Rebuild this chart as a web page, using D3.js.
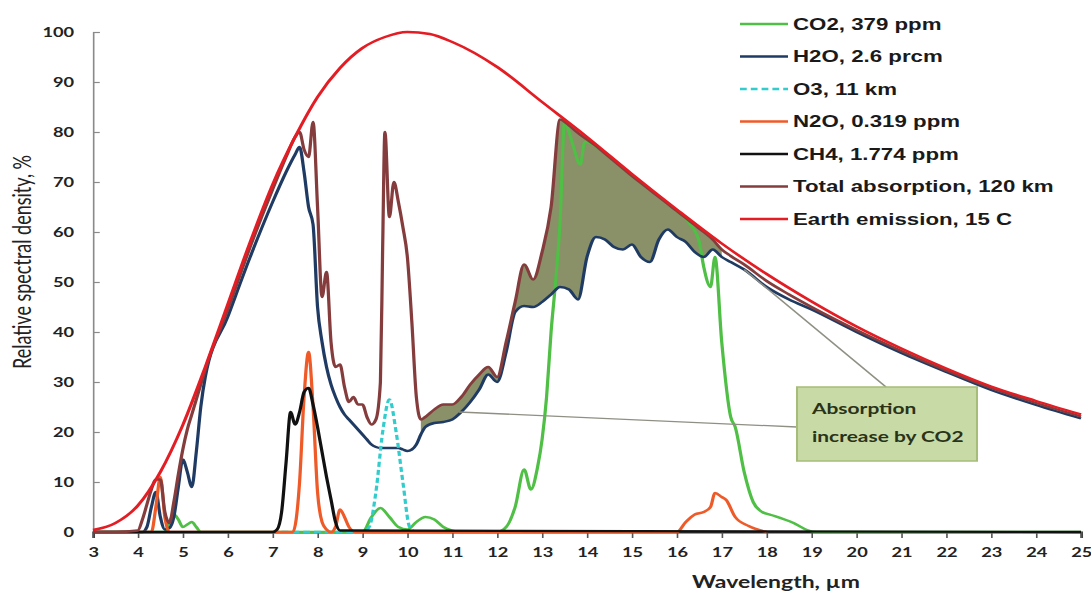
<!DOCTYPE html>
<html>
<head>
<meta charset="utf-8">
<script src="https://cdn.jsdelivr.net/npm/d3@7"></script>
<style>
  body { margin: 0; background: #fff; }
  #chart { width: 1091px; height: 595px; }
</style>
</head>
<body>
<div id="chart"></div>
<script>
// shared wavelength grid for H2O and total absorption (um)
const wl = [3, 3.5, 4,
    4.1, 4.2, 4.3, 4.4, 4.5, 4.6, 4.7, 4.8, 4.9, 5.0, 5.1, 5.2, 5.3, 5.4, 5.5,
    6, 6.5, 7, 7.3, 7.5,
    7.6, 7.7, 7.8, 7.9, 8.0, 8.1, 8.2, 8.3, 8.4, 8.5, 8.6, 8.7, 8.8, 8.9, 9.0, 9.1, 9.2, 9.3, 9.4, 9.45,
    9.5, 9.6, 9.7, 9.8, 9.9, 10.0, 10.1, 10.2, 10.3, 10.4,
    10.6, 10.8, 11.0, 11.2, 11.4, 11.6, 11.8, 12.0, 12.2, 12.4, 12.6, 12.8, 13.0, 13.2, 13.4, 13.6, 13.8,
    14.0, 14.2, 14.4, 14.6, 14.8, 15.0, 15.2, 15.4, 15.6, 15.8, 16.0, 16.2, 16.4, 16.6, 16.8, 17.0,
    17.2, 17.5, 18, 18.5, 19, 20, 21, 22, 23, 24, 25];

const h2o = [0, 0, 0,
    0, 1, 5, 8, 3, 0.5, 0.8, 3, 9, 14.5, 12, 9, 16, 25, 31,
    43, 55, 66, 72, 75.5,
    77, 72, 65, 61.5, 45, 38, 33, 29.5, 27, 25, 23.5, 22.5, 21.5, 20.5, 19.5, 18.5, 17.5, 17, 16.8, 16.8,
    16.8, 16.8, 16.8, 16.8, 16.5, 16.2, 16.5, 17.5, 19.5, 21,
    21.8, 22, 22.5, 24, 26, 28.5, 31.5, 30, 36, 44, 45.2, 45, 46, 47.5, 49, 48.5, 46.5,
    55, 59, 58.5, 57, 56.5, 57.5, 55, 54, 58.5, 60.5, 59, 58, 56, 55, 56.5, 55,
    54, 52.5, 49, 46.5, 44.5, 40, 35.8, 32, 28.4, 25.4, 22.7];

const total = [0, 0, 0.3,
    2.5, 5.5, 8.5, 10.5, 10.5, 4, 1.8, 6, 11.5, 16.5, 20.5, 23.5, 26.5, 29.5, 32.5,
    44.5, 57, 68.5, 75, 79,
    80, 76.5, 75, 82, 65, 47, 52, 38, 33, 33.5, 29, 26, 27, 25.5, 25.5, 23, 21.5, 22.5, 30, 57,
    80, 63, 70, 66, 61, 55, 42, 27, 22.5, 23,
    24.5, 25.5, 25.5, 27, 29.5, 31.5, 33, 31, 38, 46, 53.5, 50.5, 56, 65, 82.5, 81.3, 79.8,
    78.5, 77.2, 75.7, 74.2, 72.7, 71.2, 69.8, 68.4, 67, 65.6, 64.2, 62.8, 61.4, 60, 58.5, 56.5,
    55.2, 53.5, 50.2, 47.5, 45, 40.4, 36.2, 32.3, 28.8, 25.8, 23.1];

// Earth emission at 15 C
const emWl = [3, 3.5, 4, 4.5, 5, 5.5, 6, 6.5, 7, 7.5, 8, 8.5, 9, 9.5, 10, 10.5, 11, 12, 13, 14, 15, 16, 17, 18, 19, 20, 21, 22, 23, 24, 25];
const emission = [0.4, 1.8, 5.3, 12, 21.4, 33, 45.5, 58, 69.5, 79, 87, 92.8, 96.8, 99, 100, 99.6, 98, 93, 86, 79, 71.6, 64.5, 57.7, 51.6, 46.1, 41.1, 36.7, 32.7, 29.1, 26.2, 23.5];

// CO2, 379 ppm
const co2Wl = [3, 4.6, 4.7, 4.8, 4.9, 5.0, 5.1, 5.2, 5.3, 5.4,
    9.0, 9.2, 9.4, 9.6, 9.8, 10.0, 10.2, 10.4, 10.6, 10.8, 11.0, 11.2,
    12.0, 12.2, 12.4, 12.6, 12.75, 12.9, 13.0, 13.1, 13.2, 13.3, 13.4, 13.5, 13.6, 13.7, 13.85, 13.95,
    14.5, 15, 15.5, 16, 16.3, 16.5, 16.6, 16.75, 16.85, 17.0, 17.2, 17.3, 17.5, 17.7, 17.9, 18.1, 18.4, 18.6, 18.9, 19.1, 25];
const co2 = [0, 0, 2, 3.5, 2.5, 1, 1.5, 2, 1, 0,
    0, 3, 4.8, 3, 1, 0.5, 2, 3, 2.5, 1, 0.3, 0,
    0, 1, 5, 12.5, 8.5, 13, 18.5, 27, 40, 50, 62, 82, 80, 77, 73.5, 78,
    75, 71.2, 67.8, 64.2, 61.5, 58, 53, 49, 55, 38, 23, 21, 12, 6, 4, 3.4, 2.5, 1.8, 0.4, 0, 0];

// O3, 11 km
const o3Wl = [7.2, 9.0, 9.15, 9.3, 9.45, 9.6, 9.75, 9.9, 10.05, 10.2, 11];
const o3 = [0, 0, 1, 8, 20, 26.5, 20, 10, 1, 0, 0];

// N2O, 0.319 ppm
const n2oWl = [3, 4.3, 4.4, 4.5, 4.6, 4.7, 7.45, 7.6, 7.7, 7.8, 7.9, 8.0, 8.1, 8.2, 8.3, 8.4, 8.5, 8.6, 8.7, 8.85,
    16.0, 16.2, 16.4, 16.6, 16.75, 16.85, 17.0, 17.1, 17.3, 17.6, 18.0];
const n2o = [0, 0, 5, 11, 3, 0, 0, 10, 27, 36, 25, 8, 2, 0.5, 0, 1, 4.5, 3, 1, 0,
    0, 2, 3.5, 4, 5, 7.8, 7, 6.4, 3, 1.2, 0];

// CH4, 1.774 ppm
const ch4Wl = [3, 7.0, 7.1, 7.2, 7.3, 7.4, 7.5, 7.6, 7.7, 7.8, 7.9, 8.0, 8.1, 8.2, 8.3, 8.4, 8.5, 25];
const ch4 = [0, 0, 0.5, 4, 14, 24, 21.5, 24, 28, 28.8, 25.5, 21, 16, 11, 6.5, 2, 0.3, 0];

const xTicks = d3.range(3, 26);
const yTicks = d3.range(0, 101, 10);

const legendItems = [
    { name: "CO2, 379 ppm", color: "#4fbf45", dash: null },
    { name: "H2O, 2.6 prcm", color: "#1f3b63", dash: null },
    { name: "O3, 11 km", color: "#33cccc", dash: "5,3" },
    { name: "N2O, 0.319 ppm", color: "#ee5a28", dash: null },
    { name: "CH4, 1.774 ppm", color: "#111111", dash: null },
    { name: "Total absorption, 120 km", color: "#843c3c", dash: null },
    { name: "Earth emission, 15 C", color: "#e41c23", dash: null }
];

function zip(xs, ys) {
    return xs.map((w, i) => ({ w: w, v: ys[i] }));
}

function drawChart(htmlId) {
    // the original picture is stretched horizontally, so the whole svg is too
    const SX = 1.35;
    const width = 1091;
    const height = 595;
    const left = 93, right = 1081, bottom = 532, top = 32;

    const svg = d3.select(htmlId).append("svg")
        .attr("width", width)
        .attr("height", height)
        .attr("viewBox", [0, 0, width / SX, height])
        .attr("preserveAspectRatio", "none")
        .style("font-family", "Lato, sans-serif");

    const x = d3.scaleLinear().domain([3, 25]).range([left / SX, right / SX]);
    const y = d3.scaleLinear().domain([0, 100]).range([bottom, top]);

    // y axis (grey, ticks inside)
    const yAxis = svg.append("g")
        .attr("transform", `translate(${left / SX},0)`)
        .call(d3.axisLeft(y).tickValues(yTicks).tickSize(-5).tickPadding(14));
    yAxis.select(".domain").attr("stroke", "#8a8a8a").attr("stroke-width", 1.2);
    yAxis.selectAll(".tick line").attr("stroke", "#8a8a8a").attr("stroke-width", 1.2);
    yAxis.selectAll(".tick text")
        .attr("fill", "#222")
        .attr("font-size", 13.5)
        .attr("font-weight", "bold")
        .attr("font-family", "Lato, sans-serif");

    // x axis
    const xAxis = svg.append("g")
        .attr("transform", `translate(0,${bottom})`)
        .call(d3.axisBottom(x).tickValues(xTicks).tickSize(6).tickSizeOuter(6).tickPadding(9));
    xAxis.select(".domain").attr("stroke", "#333").attr("stroke-width", 2);
    xAxis.selectAll(".tick line").attr("stroke", "#555").attr("stroke-width", 1.2);
    xAxis.selectAll(".tick text")
        .attr("fill", "#222")
        .attr("font-size", 13.5)
        .attr("font-weight", "bold")
        .attr("font-family", "Lato, sans-serif");

    // axis titles
    svg.append("text")
        .attr("transform", `translate(${31 / SX},${262}) rotate(-90)`)
        .attr("text-anchor", "middle")
        .attr("font-size", 18)
        .attr("fill", "#222")
        .text("Relative spectral density, %");

    svg.append("text")
        .attr("x", 776 / SX)
        .attr("y", 588)
        .attr("text-anchor", "middle")
        .attr("font-size", 17)
        .attr("font-weight", "bold")
        .attr("fill", "#222")
        .text("Wavelength, \u00b5m");

    const line = d3.line()
        .x(d => x(d.w))
        .y(d => y(d.v))
        .curve(d3.curveMonotoneX);

    // area between total absorption and H2O = absorption increase by CO2
    const band = wl.map((w, i) => ({ w: w, lo: h2o[i], hi: total[i] }))
        .filter(d => d.w >= 10.3 && d.w <= 17.0);
    svg.append("path")
        .attr("fill", "#8a9068")
        .attr("d", d3.area()
            .x(d => x(d.w))
            .y0(d => y(d.lo))
            .y1(d => y(d.hi))
            .curve(d3.curveMonotoneX)(band));

    const series = [
        { data: zip(co2Wl, co2), item: legendItems[0] },
        { data: zip(wl, h2o), item: legendItems[1] },
        { data: zip(o3Wl, o3), item: legendItems[2] },
        { data: zip(n2oWl, n2o), item: legendItems[3] },
        { data: zip(ch4Wl, ch4), item: legendItems[4] },
        { data: zip(wl, total), item: legendItems[5] },
        { data: zip(emWl, emission), item: legendItems[6] }
    ];

    svg.append("g")
        .selectAll("path")
        .data(series)
        .join("path")
        .attr("fill", "none")
        .attr("stroke", d => d.item.color)
        .attr("stroke-width", 2.4)
        .attr("stroke-dasharray", d => d.item.dash)
        .attr("stroke-linejoin", "round")
        .attr("d", d => line(d.data));

    // callout box
    const boxX = 797, boxY = 387, boxW = 180, boxH = 74;
    const callouts = [{ w: 11.15, v: 24, fx: boxX, fy: 427 }, { w: 17.5, v: 52.5, fx: 886, fy: boxY }];
    svg.append("g")
        .selectAll("line")
        .data(callouts)
        .join("line")
        .attr("x1", d => d.fx / SX)
        .attr("y1", d => d.fy)
        .attr("x2", d => x(d.w))
        .attr("y2", d => y(d.v))
        .attr("stroke", "#8f8f84")
        .attr("stroke-width", 1.3);

    svg.append("rect")
        .attr("x", boxX / SX)
        .attr("y", boxY)
        .attr("width", boxW / SX)
        .attr("height", boxH)
        .attr("fill", "#c8dba6")
        .attr("stroke", "#a6bd7a")
        .attr("stroke-width", 1.5);

    svg.append("text")
        .attr("x", 812 / SX)
        .attr("y", 414)
        .attr("font-size", 15.5)
        .attr("font-weight", "bold")
        .attr("fill", "#2a3318")
        .text("Absorption");
    svg.append("text")
        .attr("x", 812 / SX)
        .attr("y", 442)
        .attr("font-size", 15.5)
        .attr("font-weight", "bold")
        .attr("fill", "#2a3318")
        .text("increase by CO2");

    // legend
    const legend = svg.append("g")
        .selectAll("g")
        .data(legendItems)
        .join("g")
        .attr("transform", (d, i) => `translate(0,${24 + i * 32.5})`);

    legend.append("line")
        .attr("x1", 740 / SX)
        .attr("x2", 788 / SX)
        .attr("stroke", d => d.color)
        .attr("stroke-width", 2.4)
        .attr("stroke-dasharray", d => d.dash);

    legend.append("text")
        .attr("x", 793 / SX)
        .attr("dy", "0.36em")
        .attr("font-family", "'Liberation Sans', Arial, sans-serif")
        .attr("font-size", 16.5)
        .attr("font-weight", "bold")
        .attr("fill", "#1a1a1a")
        .text(d => d.name);
}

drawChart("#chart");
</script>
</body>
</html>
